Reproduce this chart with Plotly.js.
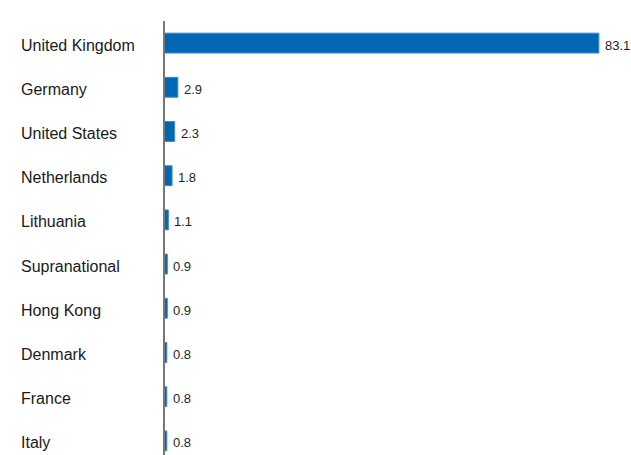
<!DOCTYPE html>
<html>
<head>
<meta charset="utf-8">
<script src="https://cdn.plot.ly/plotly-3.0.1.min.js"></script>
<style>html,body{margin:0;padding:0;background:#fff;}#chart{width:631px;height:455px;}</style>
</head>
<body>
<div id="chart"></div>
<script>
var countries = ["United Kingdom","Germany","United States","Netherlands","Lithuania","Supranational","Hong Kong","Denmark","France","Italy"];
var values = [83.1, 2.9, 2.3, 1.8, 1.1, 0.9, 0.9, 0.8, 0.8, 0.8];

var W = 631, H = 455;
var mL = 165, mR = 0, mT = 21, mB = 0;
var plotW = W - mL - mR;
var pxPerUnit = 5.25;
var zeroPx = 162.6;
var xMin = (mL - zeroPx) / pxPerUnit;
var xMax = xMin + plotW / pxPerUnit;
var font = '"Liberation Sans", Arial, Helvetica, sans-serif';

var annotations = [];
countries.forEach(function (c, i) {
  annotations.push({
    xref: 'paper', yref: 'y', x: (19 - mL) / plotW, y: c,
    text: c, showarrow: false, xanchor: 'left', yanchor: 'middle', yshift: -2,
    font: {family: font, size: 16, color: '#1a1a1a'}
  });
  annotations.push({
    xref: 'x', yref: 'y', x: values[i], y: c,
    text: values[i].toFixed(1), showarrow: false, xanchor: 'left', yanchor: 'middle',
    xshift: 4, yshift: -2,
    font: {family: font, size: 13, color: '#1f1f1f'}
  });
});

var trace = {
  type: 'bar', orientation: 'h',
  x: values, y: countries,
  width: 0.45,
  marker: {color: '#0067b4', line: {color: '#3f8ad0', width: 1}},
  hoverinfo: 'none'
};

var layout = {
  width: W, height: H,
  margin: {l: mL, r: mR, t: mT, b: mB, pad: 0},
  paper_bgcolor: '#ffffff', plot_bgcolor: '#ffffff',
  showlegend: false,
  xaxis: {range: [xMin, xMax], visible: false, fixedrange: true},
  yaxis: {type: 'category', categoryorder: 'array', categoryarray: countries,
          range: [9.32, -0.5], showticklabels: false, showgrid: false, zeroline: false,
          showline: false, ticks: '', fixedrange: true},
  shapes: [{type: 'line', xref: 'paper', yref: 'paper', layer: 'above',
            x0: -1 / plotW, x1: -1 / plotW, y0: 0, y1: 1,
            line: {color: '#777777', width: 2}}],
  annotations: annotations
};

Plotly.newPlot('chart', [trace], layout, {displayModeBar: false, staticPlot: true});
</script>
</body>
</html>
